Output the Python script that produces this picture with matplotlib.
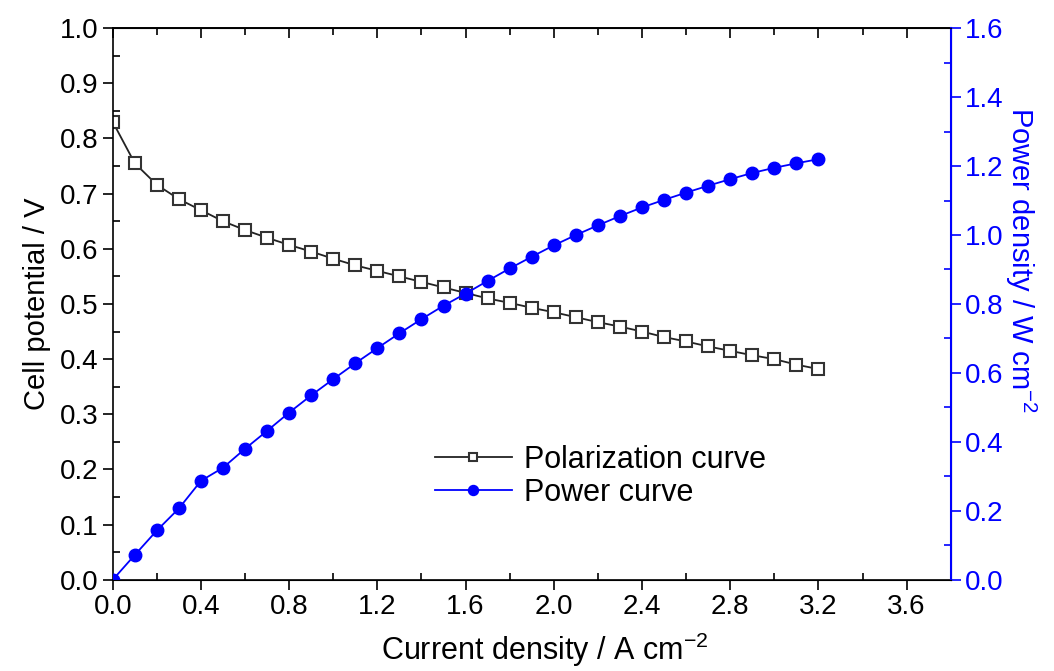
import matplotlib.pyplot as plt
from matplotlib.ticker import MultipleLocator, FormatStrFormatter

plt.rcParams['font.family'] = ['Liberation Sans', 'DejaVu Sans']
plt.rcParams['mathtext.fontset'] = 'custom'
plt.rcParams['mathtext.rm'] = 'Liberation Sans'

# current density, A cm-2
current = [0.0, 0.1, 0.2, 0.3, 0.4, 0.5, 0.6, 0.7, 0.8, 0.9, 1.0,
           1.1, 1.2, 1.3, 1.4, 1.5, 1.6, 1.7, 1.8, 1.9, 2.0, 2.1,
           2.2, 2.3, 2.4, 2.5, 2.6, 2.7, 2.8, 2.9, 3.0, 3.1, 3.2]

# cell potential, V
potential = [0.830, 0.755, 0.716, 0.690, 0.670, 0.650, 0.634, 0.620, 0.607, 0.595, 0.582,
             0.570, 0.560, 0.550, 0.540, 0.530, 0.520, 0.510, 0.502, 0.493, 0.485, 0.476,
             0.467, 0.459, 0.450, 0.440, 0.432, 0.423, 0.415, 0.407, 0.400, 0.390, 0.382]

# power density, W cm-2
power = [0.000, 0.072, 0.143, 0.207, 0.287, 0.325, 0.380, 0.432, 0.485, 0.535, 0.582,
         0.628, 0.672, 0.715, 0.756, 0.795, 0.830, 0.867, 0.903, 0.937, 0.970, 1.000,
         1.028, 1.055, 1.080, 1.102, 1.123, 1.143, 1.162, 1.180, 1.195, 1.208, 1.220]

blue = '#0000ff'

fig = plt.figure(figsize=(10.54, 6.71), dpi=100)
ax = fig.add_axes([0.107, 0.136, 0.795, 0.822])
ax2 = ax.twinx()

l1, = ax.plot(current, potential, '-', color='#222222', lw=1.3, marker='s', ms=8,
              mfc='white', mec='#333333', mew=1.5, label='Polarization curve')
l2, = ax2.plot(current, power, '-', color=blue, lw=1.3, marker='o', ms=9,
               mfc=blue, mec=blue, label='Power curve')

ax.set_xlim(0, 3.8)
ax.set_ylim(0, 1.0)
ax2.set_ylim(0, 1.6)

ax.xaxis.set_major_locator(MultipleLocator(0.4))
ax.xaxis.set_minor_locator(MultipleLocator(0.2))
ax.yaxis.set_major_locator(MultipleLocator(0.1))
ax.yaxis.set_minor_locator(MultipleLocator(0.05))
ax2.yaxis.set_major_locator(MultipleLocator(0.2))
ax2.yaxis.set_minor_locator(MultipleLocator(0.1))

ax.xaxis.set_major_formatter(FormatStrFormatter('%.1f'))
ax.yaxis.set_major_formatter(FormatStrFormatter('%.1f'))
ax2.yaxis.set_major_formatter(FormatStrFormatter('%.1f'))

ax.tick_params(axis='both', which='major', direction='out', length=7, width=1.2,
               labelsize=20)
ax.tick_params(axis='both', which='minor', direction='in', length=5, width=1.2)
ax2.tick_params(axis='y', which='major', direction='out', length=7, width=1.2,
                labelsize=20, colors=blue)
ax2.tick_params(axis='y', which='minor', direction='in', length=5, width=1.2, colors=blue)

# top axis: ticks pointing inward, no labels
top = ax.secondary_xaxis('top')
top.xaxis.set_major_locator(MultipleLocator(0.4))
top.xaxis.set_minor_locator(MultipleLocator(0.2))
top.tick_params(which='major', direction='in', length=7, width=1.2, labeltop=False)
top.tick_params(which='minor', direction='in', length=5, width=1.2)
top.spines['top'].set_linewidth(1.2)

for s in ['left', 'bottom', 'top']:
    ax.spines[s].set_linewidth(1.2)
ax2.spines['right'].set_color(blue)
ax2.spines['right'].set_linewidth(1.5)
ax2.spines['left'].set_visible(False)

ax.set_xlabel('Current density / A cm$^{\\mathregular{-2}}$', fontsize=22)
ax.xaxis.set_label_coords(0.515, -0.092)
ax.set_ylabel('Cell potential / V', fontsize=21, labelpad=6)
ax2.set_ylabel('Power density / W cm$^{\\mathregular{-2}}$', fontsize=21, color=blue,
               rotation=270, va='center')
ax2.yaxis.set_label_coords(1.083, 0.58)

ax.legend(handles=[l1, l2], loc='upper left', bbox_to_anchor=(0.352, 0.295),
          frameon=False, fontsize=22, handlelength=2.5, labelspacing=0.1,
          handletextpad=0.4, markerscale=0.8)

fig.savefig('out.png', dpi=100)
